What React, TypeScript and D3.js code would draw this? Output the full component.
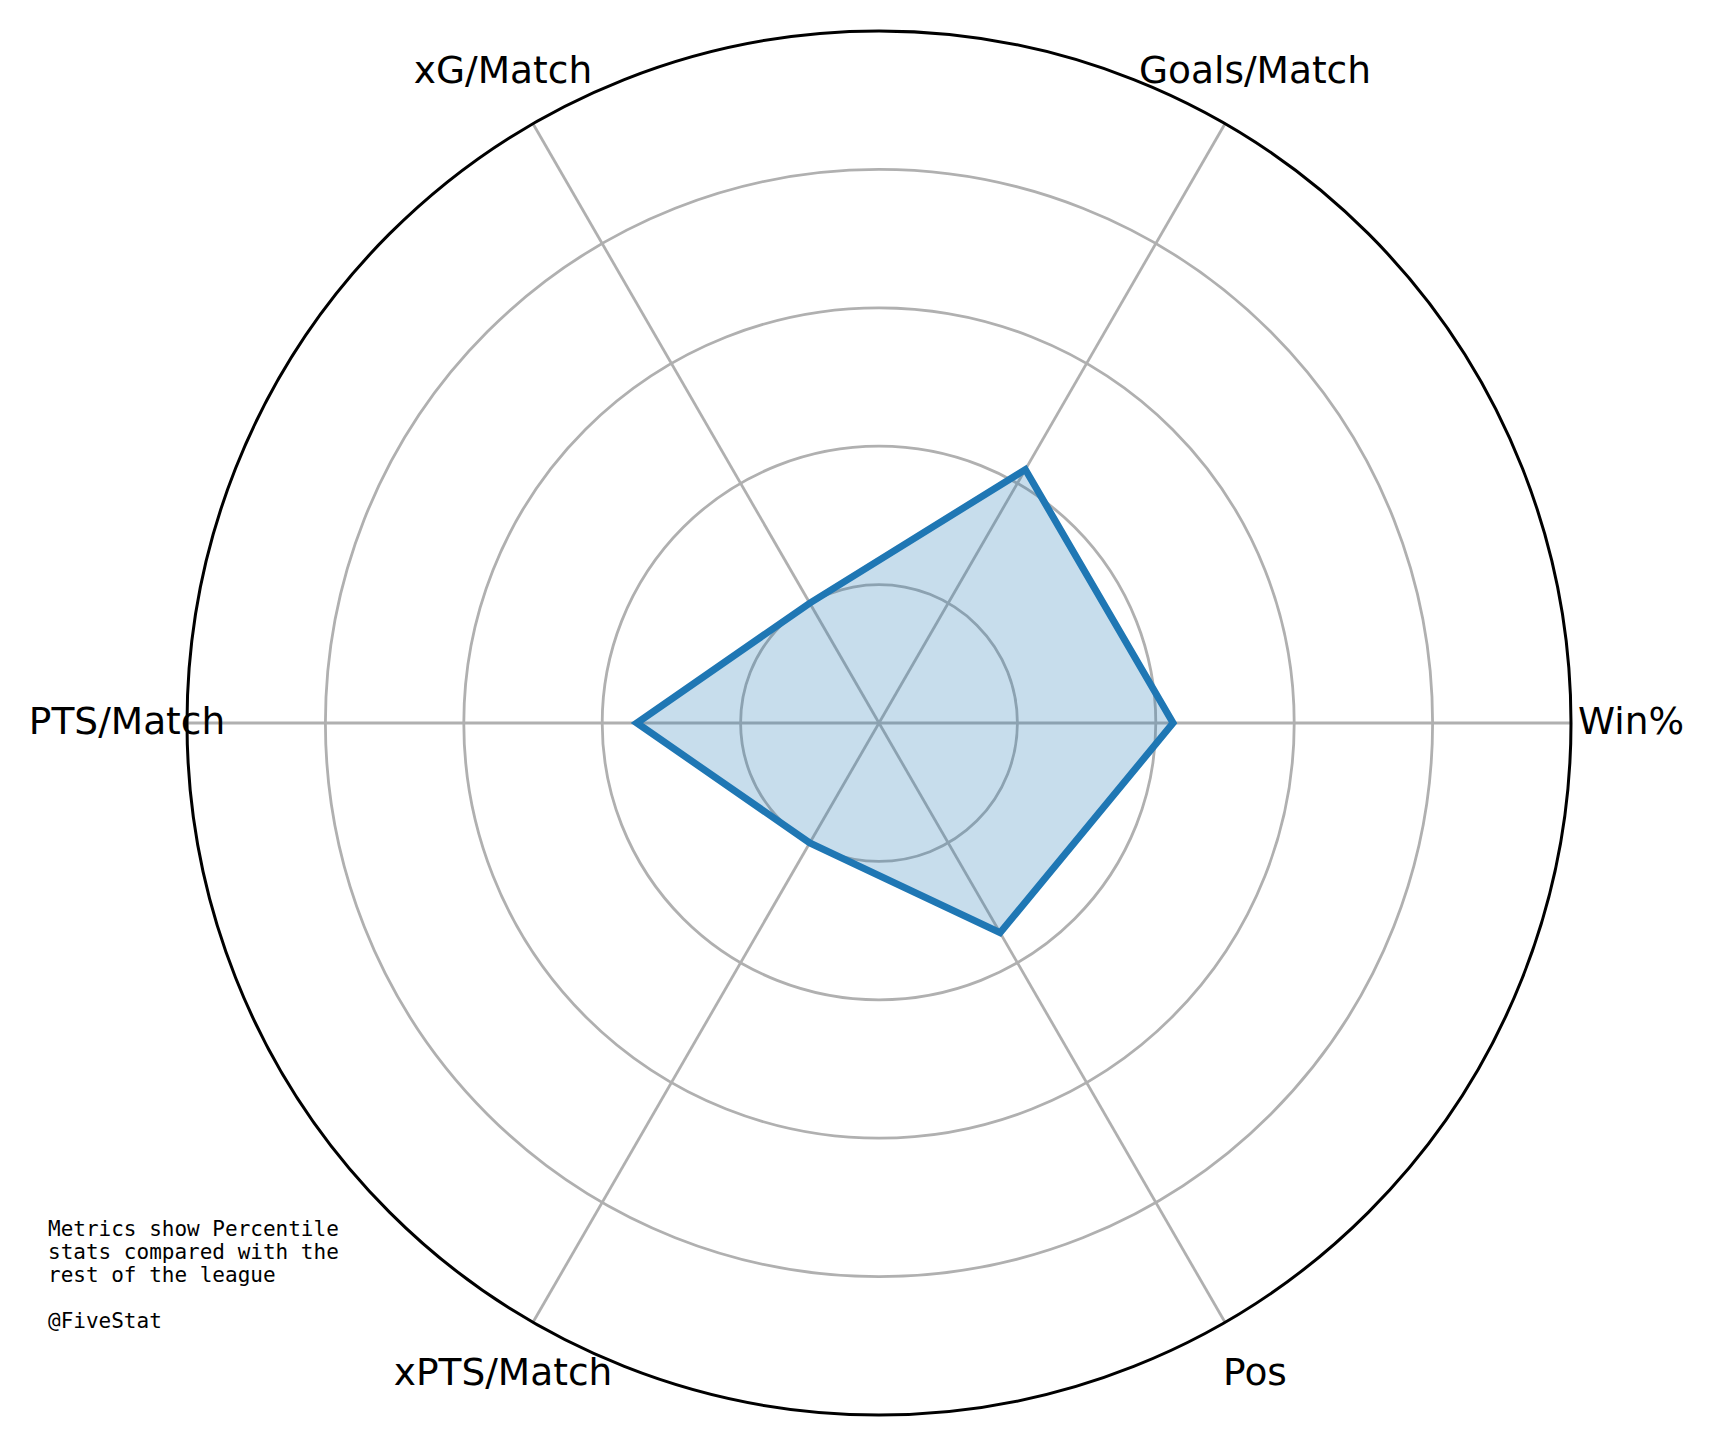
import React, { useEffect, useRef } from 'react';
import * as d3 from 'd3';

// metrics, counter-clockwise from the right (like matplotlib polar)
const categories = ['Win%', 'Goals/Match', 'xG/Match', 'PTS/Match', 'xPTS/Match', 'Pos'];
const values = [42.5, 42.3, 20, 35, 20, 35];
const ringTicks = [20, 40, 60, 80];
const noteLines = ['Metrics show Percentile', 'stats compared with the', 'rest of the league', '', '@FiveStat'];

const width = 1713;
const height = 1446;

const App: React.FC = () => {
    const svgRef = useRef<SVGSVGElement | null>(null);

    useEffect(() => {
        const svg = d3.select(svgRef.current);
        svg.selectAll('*').remove();

        const cx = 879, cy = 723;
        const outerR = 692;

        const r = d3.scaleLinear().domain([0, 100]).range([0, outerR]);
        const theta = d3.scaleLinear().domain([0, categories.length]).range([0, 2 * Math.PI]);

        const g = svg.append('g').attr('transform', `translate(${cx},${cy})`);

        // rings
        g.selectAll('circle.ring')
            .data(ringTicks)
            .enter().append('circle')
            .attr('class', 'ring')
            .attr('r', d => r(d))
            .attr('fill', 'none')
            .attr('stroke', '#b0b0b0')
            .attr('stroke-width', 2.8);

        // spokes
        g.selectAll('line.spoke')
            .data(categories)
            .enter().append('line')
            .attr('x1', 0).attr('y1', 0)
            .attr('x2', (d, i) => r(100) * Math.cos(theta(i)))
            .attr('y2', (d, i) => -r(100) * Math.sin(theta(i)))
            .attr('stroke', '#b0b0b0')
            .attr('stroke-width', 2.8);

        // d3 radial angle: 0 at top, clockwise
        const radial = d3.lineRadial<number>()
            .angle((d, i) => Math.PI / 2 - theta(i))
            .radius(d => r(d))
            .curve(d3.curveLinearClosed);

        g.append('path')
            .attr('d', radial(values))
            .attr('fill', '#1f77b4')
            .attr('fill-opacity', 0.25)
            .attr('stroke', 'none');

        g.append('path')
            .attr('d', radial(values))
            .attr('fill', 'none')
            .attr('stroke', '#1f77b4')
            .attr('stroke-width', 7)
            .attr('stroke-linejoin', 'miter');

        // outer spine
        g.append('circle')
            .attr('r', outerR)
            .attr('fill', 'none')
            .attr('stroke', '#000')
            .attr('stroke-width', 3);

        // category labels
        const labelR = 752;
        g.selectAll('text.cat')
            .data(categories)
            .enter().append('text')
            .attr('class', 'cat')
            .attr('x', (d, i) => labelR * Math.cos(theta(i)))
            .attr('y', (d, i) => -labelR * Math.sin(theta(i)) + 11)
            .attr('text-anchor', 'middle')
            .attr('font-family', 'DejaVu Sans')
            .attr('font-size', 37.5)
            .attr('fill', '#000')
            .text(d => d);

        // note
        const note = svg.append('text')
            .attr('font-family', 'DejaVu Sans Mono')
            .attr('font-size', 21)
            .attr('fill', '#000');
        noteLines.forEach((line, i) => {
            note.append('tspan')
                .attr('x', 48)
                .attr('y', 1236 + i * 23)
                .text(line);
        });
    }, []);

    return (
        <svg
            ref={svgRef}
            width={width}
            height={height}
            style={{ position: 'absolute', left: 0, top: 0, background: '#fff' }}
        />
    );
};

export default App;
